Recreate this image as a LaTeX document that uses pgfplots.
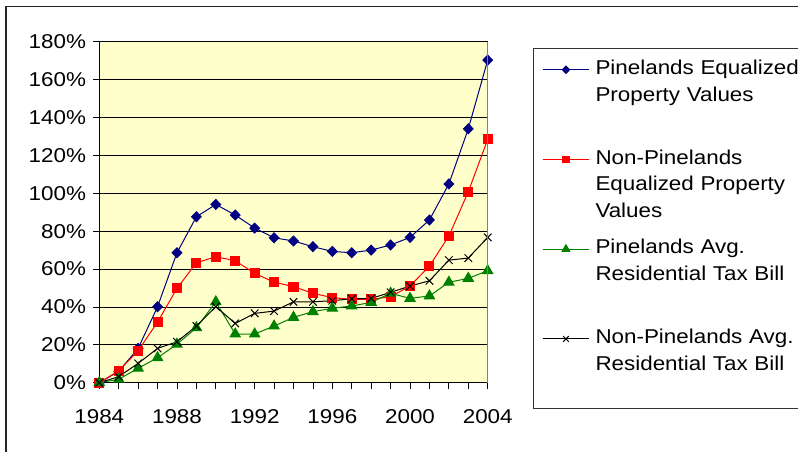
\documentclass[border=0pt]{standalone}
\usepackage{fontspec}
\setmainfont{Liberation Sans}[FakeStretch=1.12]
\usepackage{pgfplots}
\pgfplotsset{compat=1.18}
\definecolor{bgyellow}{HTML}{FFFFCC}
\definecolor{navyblue}{HTML}{000080}
\definecolor{exgreen}{HTML}{008000}
\begin{document}
\begin{tikzpicture}[font=\fontsize{15pt}{20pt}\selectfont]
\useasboundingbox (0,0) rectangle (598.5pt,338.25pt);
\clip (0,0) rectangle (598.5pt,338.25pt);
\draw[black!85, line width=0.9pt] (4.5pt,-2pt) -- (4.5pt,333.2pt) -- (602pt,333.2pt);
\begin{axis}[
  at={(74.475pt,51.225pt)}, anchor=south west,
  scale only axis, width=291.3pt, height=255.75pt,
  xmin=1984, xmax=2004, ymin=0, ymax=180,
  axis background/.style={fill=bgyellow},
  axis lines*=left,
  axis line style={black, line width=0.6pt},
  after end axis/.code={\draw[gray, line width=0.8pt] (rel axis cs:1,0) -- (rel axis cs:1,1);},
  xtick={1984,1988,...,2004},
  xticklabels={1984,1988,1992,1996,2000,2004},
  minor xtick={1985,...,2003},
  ytick={0,20,...,180},
  yticklabel={\pgfmathprintnumber{\tick}\%},
  /pgf/number format/assume math mode=true,
  tick align=outside,
  major tick length=4.5pt, minor tick length=4.5pt,
  tick style={black, line width=0.6pt},
  ymajorgrids,
  major grid style={black, line width=0.6pt},
  xticklabel style={yshift=-12pt},
  yticklabel style={xshift=-2pt},
  legend style={
    at={(axis description cs:1.1174,0.9806)}, anchor=north west,
    draw=black!80, line width=0.6pt, fill=white,
    inner xsep=6.3pt, inner ysep=8.25pt,
    row sep=16.3pt, column sep=4.3pt,
    nodes={inner sep=0pt, text height=11pt, text depth=40pt, text width=165pt, align=left},
    cells={anchor=base west},
  },
  legend image code/.code={\draw[mark repeat=2,mark phase=2,yshift=3.5pt,#1] plot coordinates {(0pt,0pt) (17.5pt,0pt) (35pt,0pt)};},
  legend image post style={every mark/.append style={scale=0.75}},
]
\addplot[color=navyblue, line width=0.75pt, mark=diamond*, mark size=3.7pt, mark options={xscale=1.3}] coordinates {
(1984,0) (1985,6) (1986,18.1) (1987,40.1) (1988,68.6) (1989,87.6) (1990,94.1) (1991,88.5) (1992,81.6) (1993,76.5) (1994,74.8) (1995,71.8) (1996,69.3) (1997,68.6) (1998,70.0) (1999,72.7) (2000,76.7) (2001,85.9) (2002,104.9) (2003,134.0) (2004,170.3)};
\addlegendentry{Pinelands Equalized\\Property Values}
\addplot[color=red, line width=0.75pt, mark=square*, mark size=3.4pt] coordinates {
(1984,0) (1985,6.3) (1986,16.9) (1987,32.0) (1988,49.8) (1989,63.3) (1990,66.5) (1991,64.4) (1992,57.7) (1993,53.1) (1994,50.7) (1995,47.2) (1996,44.9) (1997,44.0) (1998,44.0) (1999,45.4) (2000,51.0) (2001,61.6) (2002,77.4) (2003,100.8) (2004,128.4)};
\addlegendentry{Non-Pinelands\\Equalized Property\\Values}
\addplot[color=exgreen, line width=0.75pt, mark=triangle*, mark size=4.4pt] coordinates {
(1984,0) (1985,1.8) (1986,7.6) (1987,13.2) (1988,20.3) (1989,29.0) (1990,42.7) (1991,25.7) (1992,25.7) (1993,29.9) (1994,34.5) (1995,37.5) (1996,39.3) (1997,40.5) (1998,42.4) (1999,47.2) (2000,44.5) (2001,45.8) (2002,53.0) (2003,55.1) (2004,59.1)};
\addlegendentry{Pinelands Avg.\\Residential Tax Bill}
\addplot[color=black, line width=0.75pt, mark=x, mark size=4pt] coordinates {
(1984,0) (1985,3.2) (1986,10.2) (1987,18.1) (1988,21.6) (1989,29.9) (1990,40.1) (1991,31.3) (1992,36.6) (1993,37.8) (1994,42.7) (1995,42.7) (1996,43.3) (1997,44.3) (1998,44.5) (1999,47.7) (2000,51.0) (2001,53.8) (2002,64.7) (2003,65.8) (2004,76.7)};
\addlegendentry{Non-Pinelands Avg.\\Residential Tax Bill}
\end{axis}
\end{tikzpicture}
\end{document}
